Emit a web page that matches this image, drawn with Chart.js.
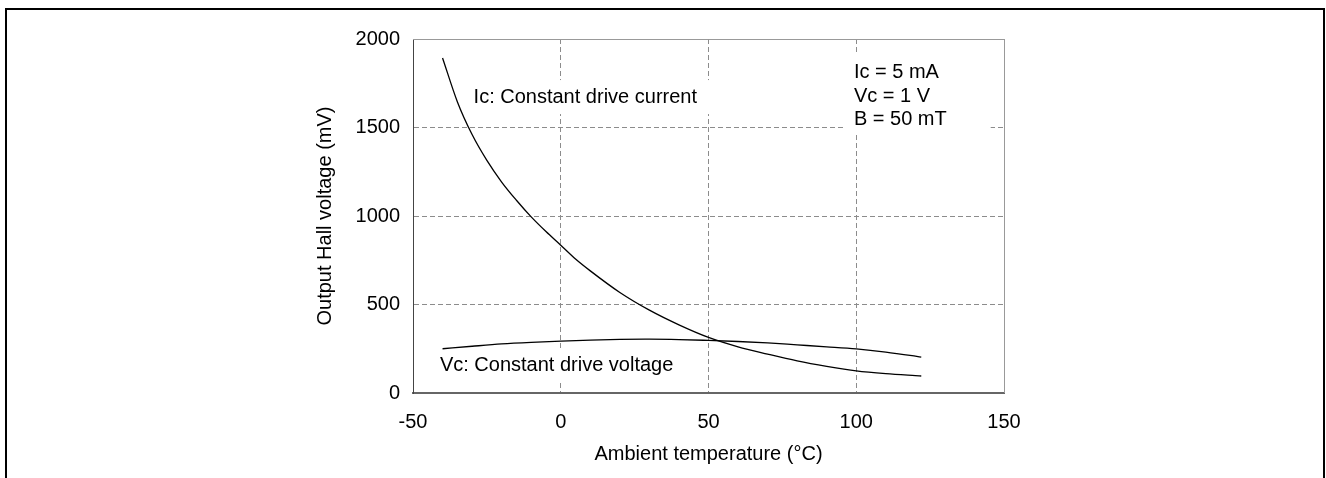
<!DOCTYPE html>
<html>
<head>
<meta charset="utf-8">
<script src="https://cdn.jsdelivr.net/npm/chart.js@4.4.1/dist/chart.umd.min.js"></script>
<style>
  body { margin: 0; background: #fff; }
  #wrap { position: relative; width: 1326px; height: 478px; overflow: hidden; }
  #chart { position: absolute; left: 0; top: 0; }
  #frame { position: absolute; left: 5px; top: 8px; width: 1316px; height: 480px;
           border: 2px solid #000; border-bottom: none; pointer-events: none; }
</style>
</head>
<body>
<div id="wrap">
  <canvas id="chart" width="1326" height="478"></canvas>
  <div id="frame"></div>
</div>
<script>
// values
var icTemps = [-40, -35, -30, -25, -20, -15, -10, -5, 0, 5, 10, 20, 30, 40, 50, 60, 70, 80, 90, 100, 110, 120, 122];
var icValues = [1893, 1646, 1460, 1314, 1192, 1089, 995, 912, 835, 757, 690, 568, 468, 385, 314, 261, 220, 182, 151, 125, 109, 98, 96];
var vcTemps = [-40, -30, -20, -10, 0, 10, 20, 30, 40, 50, 60, 70, 80, 90, 100, 110, 120, 122];
var vcValues = [250, 264, 277, 286, 293, 299, 303, 304, 302, 297, 291, 283, 272, 261, 249, 231, 208, 203];
var xTicks = [-50, 0, 50, 100, 150];
var yTicks = [0, 500, 1000, 1500, 2000];

var FONT = '"Liberation Sans", Arial, sans-serif';

function toPoints(xs, ys) {
    var pts = [];
    for (var i = 0; i < xs.length; i++) {
        pts.push({ x: xs[i], y: ys[i] });
    }
    return pts;
}

function plainLabel(value) {
    return String(value);
}

// text notes inside the plot, anchored in data units, with a white box behind
var notes = [
    { lines: ['Ic: Constant drive current'], x: -29.5, y: 1672, pad: [6, 12, 17, 17] },
    { lines: ['Vc: Constant drive voltage'], x: -40.9, y: 153, pad: [6, 12, 17, 17] },
    { lines: ['Ic = 5 mA', 'Vc = 1 V', 'B = 50 mT'], x: 99.2, y: 1810, pad: [8, 44, 19, 15] }
];

var notesPlugin = {
    id: 'notes',
    beforeDatasetsDraw: function (chart) {
        var ctx = chart.ctx;
        var xs = chart.scales.x, ys = chart.scales.y;
        var area = chart.chartArea;
        ctx.save();

        // solid top and right edges of the plot box
        ctx.strokeStyle = '#999';
        ctx.lineWidth = 1;
        ctx.beginPath();
        ctx.moveTo(area.left, Math.round(area.top) + 0.5);
        ctx.lineTo(area.right, Math.round(area.top) + 0.5);
        ctx.moveTo(Math.round(area.right) + 0.5, area.top);
        ctx.lineTo(Math.round(area.right) + 0.5, area.bottom);
        ctx.stroke();

        ctx.font = '20px ' + FONT;
        ctx.textBaseline = 'middle';
        ctx.textAlign = 'left';
        var lineGap = 23.5;
        notes.forEach(function (n) {
            var px = xs.getPixelForValue(n.x);
            var py = ys.getPixelForValue(n.y);
            var w = 0;
            n.lines.forEach(function (t) { w = Math.max(w, ctx.measureText(t).width); });
            var h = (n.lines.length - 1) * lineGap;
            ctx.fillStyle = '#fff';
            ctx.fillRect(px - n.pad[0], py - n.pad[2], w + n.pad[0] + n.pad[1], h + n.pad[2] + n.pad[3]);
            ctx.fillStyle = '#000';
            n.lines.forEach(function (t, i) {
                ctx.fillText(t, px, py + i * lineGap);
            });
        });
        ctx.restore();
    }
};

var ctx = document.getElementById('chart').getContext('2d');
var chart = new Chart(ctx, {
    type: 'scatter',
    data: {
        datasets: [
            {
                label: 'Ic: Constant drive current',
                data: toPoints(icTemps, icValues),
                showLine: true,
                borderColor: '#000',
                borderWidth: 1.3,
                pointRadius: 0,
                cubicInterpolationMode: 'monotone',
                fill: false
            },
            {
                label: 'Vc: Constant drive voltage',
                data: toPoints(vcTemps, vcValues),
                showLine: true,
                borderColor: '#000',
                borderWidth: 1.3,
                pointRadius: 0,
                cubicInterpolationMode: 'monotone',
                fill: false
            }
        ]
    },
    options: {
        responsive: false,
        animation: false,
        devicePixelRatio: 1,
        layout: { padding: { left: 313, top: 39, right: 322, bottom: 12 } },
        plugins: {
            legend: { display: false },
            tooltip: { enabled: false }
        },
        scales: {
            x: {
                type: 'linear',
                min: xTicks[0],
                max: xTicks[xTicks.length - 1],
                afterBuildTicks: function (scale) {
                    scale.ticks = xTicks.map(function (v) { return { value: v }; });
                },
                afterFit: function (scale) { scale.height = 73; },
                grid: { color: '#8c8c8c', lineWidth: 1, drawTicks: false },
                border: { display: true, color: '#666', width: 2, dash: [5, 3] },
                ticks: { color: '#000', padding: 17, font: { family: FONT, size: 20 }, callback: plainLabel },
                title: {
                    display: true,
                    text: 'Ambient temperature (°C)',
                    color: '#000',
                    padding: 0,
                    font: { family: FONT, size: 20 }
                }
            },
            y: {
                type: 'linear',
                min: yTicks[0],
                max: yTicks[yTicks.length - 1],
                afterBuildTicks: function (scale) {
                    scale.ticks = yTicks.map(function (v) { return { value: v }; });
                },
                afterFit: function (scale) { scale.width = 100; },
                grid: { color: '#8c8c8c', lineWidth: 1, drawTicks: false },
                border: { display: true, color: '#444', width: 1, dash: [5, 3] },
                ticks: { color: '#000', padding: 13, font: { family: FONT, size: 20 }, callback: plainLabel },
                title: {
                    display: true,
                    text: 'Output Hall voltage (mV)',
                    color: '#000',
                    padding: 0,
                    font: { family: FONT, size: 20 }
                }
            }
        }
    },
    plugins: [notesPlugin]
});
</script>
</body>
</html>
